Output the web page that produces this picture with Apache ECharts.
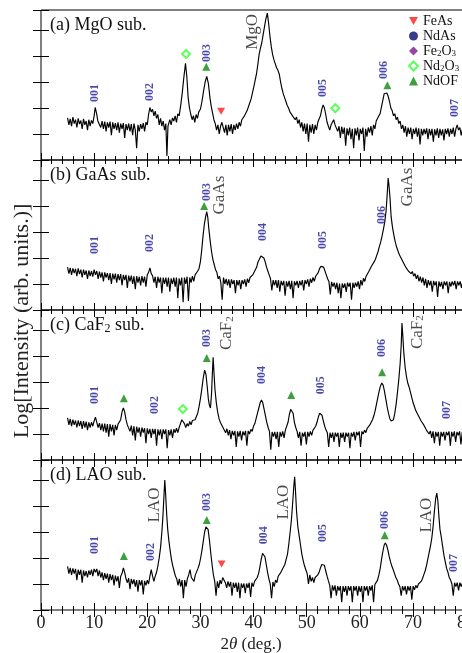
<!DOCTYPE html>
<html><head><meta charset="utf-8">
<script src="https://cdn.jsdelivr.net/npm/echarts@6/dist/echarts.min.js"></script>
<style>html,body{margin:0;padding:0;background:#fff}#c{width:462px;height:653px}</style>
</head><body><div id="c"></div>
<script>
// ---------- DATA (2θ in degrees, log intensity in arbitrary decades) ----------
const xTicks = [0, 10, 20, 30, 40, 50, 60, 70, 80];
const panelTitles = ['(a) MgO sub.', '(b) GaAs sub.', '(c) CaF{s|2} sub.', '(d) LAO sub.'];
const legendNames = ['FeAs', 'NdAs', 'Fe2O3', 'Nd2O3', 'NdOF'];

const scanA = [[5,1.62],[5.25,1.35],[5.5,1.58],[5.75,1.30],[6,1.65],[6.25,1.40],[6.5,1.55],[6.75,1.25],[7,1.60],[7.25,1.38],[7.5,1.52],[7.75,1.20],[8,1.58],[8.25,1.35],[8.5,1.50],[8.75,1.15],[9,1.55],[9.25,1.30],[9.5,1.52],[9.75,1.40],[10,1.70],[10.2,2.02],[10.45,1.80],[10.7,1.50],[11,1.55],[11.25,1.25],[11.5,1.50],[11.75,1.20],[12,1.48],[12.25,1.10],[12.5,1.45],[12.75,1.25],[13,1.48],[13.25,0.95],[13.5,1.45],[13.75,1.20],[14,1.42],[14.25,1.15],[14.5,1.45],[14.75,1.05],[15,1.40],[15.25,1.20],[15.5,1.42],[15.75,0.85],[16,1.38],[16.25,1.15],[16.5,1.40],[16.75,1.10],[17,1.38],[17.25,0.95],[17.5,1.40],[17.75,1.15],[18,0.45],[18.25,1.35],[18.5,1.10],[18.75,1.38],[19,1.20],[19.25,1.42],[19.5,1.10],[19.75,1.45],[20,1.35],[20.25,1.75],[20.5,2.02],[20.75,1.85],[21,1.95],[21.25,1.70],[21.5,1.88],[21.75,1.60],[22,1.75],[22.25,1.35],[22.5,1.60],[22.75,1.30],[23,1.50],[23.25,1.15],[23.5,1.40],[23.7,0.15],[23.9,1.30],[24.25,1.55],[24.5,1.35],[24.75,1.62],[25,1.50],[25.25,1.70],[25.5,1.45],[25.75,1.78],[26,1.70],[26.3,2.10],[26.6,2.60],[26.9,3.20],[27.2,3.72],[27.45,3.20],[27.7,2.40],[27.95,2.00],[28.2,1.75],[28.45,1.55],[28.7,1.70],[28.95,1.45],[29.2,1.75],[29.45,1.60],[29.7,1.85],[30,1.95],[30.3,2.25],[30.6,2.65],[30.9,3.00],[31.2,3.22],[31.5,2.95],[31.8,2.40],[32.05,2.05],[32.3,1.80],[32.55,1.55],[32.8,1.40],[33.05,1.15],[33.3,1.35],[33.55,1.00],[33.8,1.30],[34.05,1.45],[34.3,1.40],[34.55,1.05],[34.8,1.35],[35.05,0.95],[35.3,1.35],[35.55,1.10],[35.8,1.38],[36.05,1.00],[36.3,1.35],[36.55,1.15],[36.8,1.40],[37.05,1.20],[37.3,1.45],[37.55,1.30],[37.8,1.55],[38.05,1.50],[38.3,1.70],[38.55,1.65],[38.8,1.90],[39.05,1.95],[39.3,2.20],[39.55,2.35],[39.8,2.58],[40.05,2.80],[40.3,3.05],[40.55,3.30],[40.8,3.65],[41.05,4.05],[41.3,4.30],[41.55,4.50],[41.8,4.80],[42.05,5.10],[42.3,5.40],[42.6,5.65],[42.85,5.25],[43.1,4.75],[43.35,4.35],[43.6,4.05],[43.85,3.85],[44.1,3.70],[44.35,3.55],[44.6,3.45],[44.85,3.30],[45.1,3.00],[45.35,2.75],[45.6,2.55],[45.85,2.40],[46.1,2.25],[46.35,2.10],[46.6,2.00],[46.85,1.85],[47.1,1.90],[47.35,1.70],[47.6,1.75],[47.85,1.55],[48.1,1.65],[48.35,1.40],[48.6,1.55],[48.85,1.25],[49.1,1.45],[49.35,1.10],[49.6,1.40],[49.85,1.00],[50.1,1.40],[50.35,0.70],[50.6,1.35],[50.85,1.05],[51.1,1.38],[51.35,1.00],[51.6,1.35],[51.85,1.15],[52.1,1.45],[52.35,1.40],[52.6,1.70],[52.85,1.95],[53.1,2.12],[53.35,2.00],[53.6,1.75],[53.85,1.45],[54.1,1.30],[54.35,1.15],[54.6,1.35],[54.85,1.45],[55.1,1.55],[55.35,1.35],[55.6,1.40],[55.85,1.10],[56.1,1.30],[56.35,0.85],[56.6,1.28],[56.85,1.00],[57.1,1.25],[57.35,0.55],[57.6,1.22],[57.85,0.95],[58.1,1.25],[58.35,0.80],[58.6,1.20],[58.85,0.45],[59.1,1.22],[59.35,0.95],[59.6,1.25],[59.85,0.75],[60.1,1.20],[60.35,1.00],[60.6,1.25],[60.85,0.35],[61.1,1.20],[61.35,0.90],[61.6,1.25],[61.85,1.05],[62.1,1.30],[62.35,0.95],[62.6,1.35],[62.85,1.20],[63.1,1.50],[63.35,1.45],[63.6,1.70],[63.85,1.80],[64.1,2.05],[64.35,2.30],[64.6,2.55],[64.85,2.62],[65.1,2.58],[65.35,2.45],[65.6,2.25],[65.85,2.00],[66.1,1.90],[66.35,1.70],[66.6,1.78],[66.85,1.55],[67.1,1.65],[67.35,1.40],[67.6,1.50],[67.85,1.20],[68.1,1.35],[68.35,1.05],[68.6,1.30],[68.85,0.90],[69.1,1.25],[69.35,1.00],[69.6,1.25],[69.85,0.80],[70.1,1.20],[70.35,1.00],[70.6,1.25],[70.85,0.90],[71.1,1.22],[71.35,0.60],[71.6,1.20],[71.85,0.95],[72.1,1.20],[72.35,1.00],[72.6,1.22],[72.85,0.80],[73.1,1.20],[73.35,0.95],[73.6,1.20],[73.85,0.70],[74.1,1.18],[74.35,0.95],[74.6,1.22],[74.85,0.85],[75.1,1.20],[75.35,0.95],[75.6,1.18],[75.85,0.75],[76.1,1.20],[76.35,1.00],[76.6,1.22],[76.85,0.90],[77.1,1.20],[77.35,1.00],[77.6,1.25],[77.85,0.90],[78.1,1.20],[78.35,1.35],[78.6,1.15],[78.85,1.25],[79.1,0.95],[79.35,1.20],[79.6,1.00],[79.85,1.20]];

const scanB = [[5,1.65],[5.25,1.40],[5.5,1.62],[5.75,1.35],[6,1.60],[6.25,1.42],[6.5,1.58],[6.75,1.30],[7,1.60],[7.25,1.38],[7.5,1.55],[7.75,1.25],[8,1.55],[8.25,1.35],[8.5,1.52],[8.75,1.20],[9,1.52],[9.25,1.30],[9.5,1.50],[9.75,1.28],[10,1.55],[10.25,1.35],[10.5,1.50],[10.75,1.20],[11,1.48],[11.25,1.25],[11.5,1.45],[11.75,1.10],[12,1.45],[12.25,1.25],[12.5,1.42],[12.75,1.15],[13,1.42],[13.25,1.00],[13.5,1.40],[13.75,1.18],[14,1.40],[14.25,1.05],[14.5,1.38],[14.75,1.15],[15,1.38],[15.25,0.95],[15.5,1.35],[15.75,1.15],[16,1.35],[16.25,0.85],[16.5,1.32],[16.75,1.10],[17,1.32],[17.25,1.00],[17.5,1.30],[17.75,0.80],[18,1.30],[18.25,1.05],[18.5,1.28],[18.75,0.95],[19,1.30],[19.25,1.05],[19.5,1.28],[19.75,0.90],[20,1.35],[20.25,1.45],[20.5,1.62],[20.75,1.40],[21,1.32],[21.25,1.05],[21.5,1.28],[21.75,0.85],[22,1.28],[22.25,1.05],[22.5,1.25],[22.75,0.65],[23,1.25],[23.25,1.00],[23.5,1.25],[23.75,0.90],[24,1.25],[24.25,0.70],[24.5,1.22],[24.75,1.00],[25,1.25],[25.25,0.90],[25.5,1.25],[25.75,0.45],[26,1.22],[26.25,0.95],[26.5,1.25],[26.75,0.30],[27,1.25],[27.25,1.00],[27.5,1.28],[27.75,0.35],[28,1.25],[28.25,1.05],[28.5,1.30],[28.75,1.10],[29,1.35],[29.25,1.30],[29.5,1.50],[29.75,1.60],[30,1.85],[30.25,2.30],[30.5,2.85],[30.75,3.30],[31,3.60],[31.2,3.78],[31.4,3.55],[31.6,3.10],[31.85,2.65],[32.1,2.25],[32.35,1.95],[32.6,1.75],[32.85,1.55],[33.1,1.45],[33.35,1.20],[33.6,1.30],[33.85,1.05],[34.1,0.40],[34.35,1.25],[34.6,1.00],[34.85,1.20],[35.1,0.95],[35.35,1.18],[35.6,0.85],[35.85,1.18],[36.1,1.00],[36.35,1.15],[36.6,0.65],[36.85,1.15],[37.1,0.95],[37.35,1.15],[37.6,0.80],[37.85,1.15],[38.1,1.00],[38.35,1.18],[38.6,0.90],[38.85,1.20],[39.1,1.05],[39.35,1.25],[39.6,1.20],[39.85,1.35],[40.1,1.40],[40.35,1.55],[40.6,1.65],[40.85,1.85],[41.1,1.95],[41.4,2.08],[41.7,2.12],[41.95,2.00],[42.2,1.85],[42.45,1.65],[42.7,1.50],[42.95,1.35],[43.2,1.20],[43.45,0.75],[43.7,1.15],[43.95,0.95],[44.2,1.15],[44.45,0.85],[44.7,1.15],[44.95,0.70],[45.2,1.12],[45.45,0.95],[45.7,1.12],[45.95,0.55],[46.2,1.10],[46.45,0.90],[46.7,1.12],[46.95,0.80],[47.2,1.12],[47.45,0.45],[47.7,1.10],[47.95,0.95],[48.2,1.12],[48.45,0.85],[48.7,1.12],[48.95,0.95],[49.2,1.15],[49.45,0.75],[49.7,1.15],[49.95,1.00],[50.2,1.18],[50.45,0.90],[50.7,1.20],[50.95,1.05],[51.2,1.25],[51.45,1.10],[51.7,1.30],[51.95,1.35],[52.2,1.45],[52.45,1.60],[52.7,1.68],[52.95,1.73],[53.2,1.65],[53.45,1.50],[53.7,1.35],[53.95,1.20],[54.2,1.10],[54.45,0.60],[54.7,1.08],[54.95,0.90],[55.2,1.05],[55.45,0.80],[55.7,1.05],[55.95,0.65],[56.2,1.02],[56.45,0.45],[56.7,1.02],[56.95,0.85],[57.2,1.02],[57.45,0.70],[57.7,1.05],[57.95,0.90],[58.2,1.05],[58.45,0.40],[58.7,1.05],[58.95,0.85],[59.2,1.05],[59.45,0.90],[59.7,1.10],[59.95,0.80],[60.2,1.15],[60.45,0.95],[60.7,1.22],[60.95,1.10],[61.2,1.30],[61.45,1.25],[61.7,1.48],[61.95,1.55],[62.2,1.68],[62.45,1.70],[62.7,1.85],[62.95,1.95],[63.2,2.10],[63.45,2.25],[63.7,2.45],[63.95,2.62],[64.2,2.85],[64.45,3.10],[64.7,3.38],[64.95,3.80],[65.15,4.40],[65.35,5.08],[65.5,4.80],[65.7,4.30],[65.9,3.60],[66.15,3.20],[66.4,2.90],[66.65,2.65],[66.9,2.45],[67.15,2.30],[67.4,2.15],[67.65,2.05],[67.9,1.95],[68.15,1.85],[68.4,1.78],[68.65,1.65],[68.9,1.62],[69.15,1.50],[69.4,1.55],[69.65,1.40],[69.9,1.48],[70.15,1.30],[70.4,1.40],[70.65,1.20],[70.9,1.35],[71.15,1.10],[71.4,1.28],[71.65,1.05],[71.9,1.25],[72.15,0.95],[72.4,1.20],[72.65,0.85],[72.9,1.15],[73.15,0.95],[73.4,1.12],[73.65,0.70],[73.9,1.12],[74.15,0.95],[74.4,1.10],[74.65,0.50],[74.9,1.10],[75.15,0.90],[75.4,1.08],[75.65,0.80],[75.9,1.10],[76.15,0.95],[76.4,1.10],[76.65,0.65],[76.9,1.08],[77.15,0.90],[77.4,1.10],[77.65,0.95],[77.9,1.12],[78.15,0.80],[78.4,1.10],[78.65,0.95],[78.9,1.10],[79.15,0.85],[79.4,1.10],[79.65,0.95],[79.9,1.10]];

const scanC = [[5,1.62],[5.25,1.35],[5.5,1.58],[5.75,1.30],[6,1.55],[6.25,1.35],[6.5,1.52],[6.75,1.25],[7,1.52],[7.25,1.30],[7.5,1.50],[7.75,1.20],[8,1.50],[8.25,1.25],[8.5,1.48],[8.75,1.15],[9,1.45],[9.25,1.25],[9.5,1.45],[9.75,1.30],[10,1.50],[10.25,1.65],[10.5,1.45],[10.75,1.25],[11,1.42],[11.25,1.15],[11.5,1.40],[11.75,1.10],[12,1.40],[12.25,1.05],[12.5,1.38],[12.75,0.90],[13,1.38],[13.25,1.10],[13.5,1.35],[13.75,0.95],[14,1.35],[14.25,1.15],[14.5,1.38],[14.75,1.35],[15,1.55],[15.25,1.85],[15.5,2.00],[15.75,1.85],[16,1.55],[16.25,1.35],[16.5,1.38],[16.75,1.10],[17,1.32],[17.25,0.95],[17.5,1.30],[17.75,0.75],[18,1.28],[18.25,1.05],[18.5,1.25],[18.75,0.90],[19,1.25],[19.25,1.05],[19.5,1.22],[19.75,0.65],[20,1.22],[20.25,1.00],[20.5,1.20],[20.75,0.85],[21,1.20],[21.25,1.00],[21.5,1.20],[21.75,0.55],[22,1.18],[22.25,0.95],[22.5,1.18],[22.75,0.80],[23,1.18],[23.25,1.00],[23.5,1.18],[23.75,0.45],[24,1.15],[24.25,0.95],[24.5,1.18],[24.75,0.85],[25,1.18],[25.25,1.05],[25.5,1.22],[25.75,1.05],[26,1.25],[26.25,1.40],[26.5,1.55],[26.75,1.62],[27,1.40],[27.25,1.25],[27.5,1.40],[27.75,1.30],[28,1.48],[28.25,1.35],[28.5,1.52],[28.75,1.45],[29,1.55],[29.25,1.60],[29.5,1.80],[29.75,2.05],[30,2.35],[30.25,2.70],[30.5,3.10],[30.8,3.46],[31.05,3.30],[31.3,2.80],[31.5,2.35],[31.7,2.10],[31.9,2.00],[32.1,2.55],[32.25,3.30],[32.4,3.95],[32.55,3.40],[32.75,2.70],[33,2.20],[33.25,1.85],[33.5,1.60],[33.75,1.45],[34,1.40],[34.25,1.25],[34.5,1.30],[34.75,1.05],[35,1.20],[35.25,0.95],[35.5,1.15],[35.75,0.80],[36,1.12],[36.25,0.95],[36.5,1.12],[36.75,0.50],[37,1.10],[37.25,0.90],[37.5,1.12],[37.75,0.75],[38,1.10],[38.25,0.95],[38.5,1.12],[38.75,0.55],[39,1.12],[39.25,1.00],[39.5,1.18],[39.75,1.10],[40,1.30],[40.25,1.40],[40.5,1.60],[40.75,1.80],[41,2.00],[41.25,2.20],[41.5,2.31],[41.75,2.20],[42,1.95],[42.25,1.70],[42.5,1.45],[42.75,1.25],[43,1.10],[43.25,0.40],[43.5,1.08],[43.75,0.90],[44,1.08],[44.25,0.80],[44.5,1.08],[44.75,0.50],[45,1.08],[45.25,0.90],[45.5,1.10],[45.75,0.85],[46,1.15],[46.25,1.20],[46.5,1.45],[46.75,1.75],[47,1.95],[47.2,2.00],[47.45,1.80],[47.7,1.45],[47.95,1.25],[48.2,1.10],[48.45,0.85],[48.7,1.08],[48.95,0.55],[49.2,1.05],[49.45,0.90],[49.7,1.08],[49.95,0.60],[50.2,1.08],[50.45,0.90],[50.7,1.10],[50.95,0.95],[51.2,1.15],[51.45,1.10],[51.7,1.30],[51.95,1.45],[52.2,1.65],[52.45,1.80],[52.65,1.85],[52.9,1.72],[53.15,1.50],[53.4,1.30],[53.65,1.15],[53.9,1.05],[54.15,0.50],[54.4,1.05],[54.65,0.85],[54.9,1.05],[55.15,0.70],[55.4,1.05],[55.65,0.90],[55.9,1.05],[56.15,0.50],[56.4,1.05],[56.65,0.85],[56.9,1.05],[57.15,0.70],[57.4,1.05],[57.65,0.90],[57.9,1.05],[58.15,0.45],[58.4,1.05],[58.65,0.90],[58.9,1.08],[59.15,0.75],[59.4,1.08],[59.65,0.95],[59.9,1.10],[60.15,0.50],[60.4,1.10],[60.65,1.00],[60.9,1.15],[61.15,1.05],[61.4,1.22],[61.65,1.25],[61.9,1.35],[62.15,1.45],[62.4,1.55],[62.65,1.70],[62.9,1.90],[63.15,2.15],[63.4,2.40],[63.65,2.65],[63.9,2.85],[64.15,2.96],[64.4,2.88],[64.65,2.65],[64.9,2.35],[65.15,2.05],[65.4,1.80],[65.65,1.60],[65.9,1.50],[66.1,1.46],[66.35,1.55],[66.6,1.80],[66.85,2.15],[67.1,2.60],[67.35,3.10],[67.6,3.70],[67.8,4.40],[67.95,5.27],[68.1,4.80],[68.3,4.10],[68.55,3.55],[68.8,3.20],[69.05,2.95],[69.3,2.80],[69.55,2.60],[69.8,2.40],[70.05,2.20],[70.3,2.05],[70.55,1.90],[70.8,1.80],[71.05,1.70],[71.3,1.65],[71.55,1.50],[71.8,1.45],[72.05,1.35],[72.3,1.30],[72.55,1.15],[72.8,1.20],[73.05,1.00],[73.3,1.12],[73.55,0.85],[73.8,1.10],[74.05,0.65],[74.3,1.08],[74.55,0.90],[74.8,1.08],[75.05,0.55],[75.3,1.08],[75.55,0.90],[75.8,1.08],[76.05,0.75],[76.3,1.08],[76.55,0.95],[76.8,1.10],[77.05,0.55],[77.3,1.08],[77.55,0.90],[77.8,1.10],[78.05,0.70],[78.3,1.08],[78.55,0.95],[78.8,1.10],[79.05,0.60],[79.3,1.08],[79.55,0.95],[79.8,1.10]];

const scanD = [[5,1.68],[5.25,1.40],[5.5,1.62],[5.75,1.35],[6,1.60],[6.25,1.40],[6.5,1.58],[6.75,1.15],[7,1.55],[7.25,1.35],[7.5,1.55],[7.75,1.05],[8,1.52],[8.25,1.30],[8.5,1.50],[8.75,1.25],[9,1.52],[9.25,1.35],[9.5,1.55],[9.75,1.30],[10,1.58],[10.25,1.45],[10.5,1.58],[10.75,1.30],[11,1.52],[11.25,1.25],[11.5,1.45],[11.75,1.15],[12,1.42],[12.25,1.20],[12.5,1.40],[12.75,1.05],[13,1.38],[13.25,1.15],[13.5,1.35],[13.75,0.95],[14,1.32],[14.25,1.10],[14.5,1.30],[14.75,0.85],[15,1.30],[15.25,1.40],[15.5,1.62],[15.75,1.45],[16,1.20],[16.25,1.05],[16.5,1.22],[16.75,0.80],[17,1.20],[17.25,1.00],[17.5,1.18],[17.75,0.90],[18,1.15],[18.25,0.70],[18.5,1.15],[18.75,0.95],[19,1.15],[19.25,0.60],[19.5,1.12],[19.75,0.95],[20,1.15],[20.25,1.00],[20.5,1.30],[20.75,1.55],[21,1.30],[21.25,1.10],[21.5,1.30],[21.75,1.45],[22,1.70],[22.25,2.00],[22.5,2.40],[22.75,3.00],[22.95,3.60],[23.1,4.20],[23.3,5.00],[23.45,4.50],[23.65,3.70],[23.85,3.10],[24.05,2.70],[24.3,2.30],[24.55,1.95],[24.8,1.70],[25.05,1.50],[25.3,1.30],[25.55,1.20],[25.8,0.95],[26.05,1.20],[26.3,0.90],[26.55,1.15],[26.8,0.45],[27.05,1.15],[27.3,0.90],[27.55,1.20],[27.8,1.35],[28.05,1.55],[28.3,1.25],[28.55,1.30],[28.8,1.10],[29.05,1.35],[29.3,1.40],[29.55,1.60],[29.8,1.75],[30.05,2.00],[30.3,2.30],[30.55,2.65],[30.8,3.00],[31.05,3.20],[31.25,3.27],[31.45,3.10],[31.7,2.70],[31.95,2.20],[32.2,1.75],[32.45,1.35],[32.7,1.10],[32.95,0.55],[33.2,1.10],[33.45,0.85],[33.7,1.15],[33.95,1.00],[34.2,1.25],[34.45,1.25],[34.7,1.05],[34.95,0.85],[35.2,1.10],[35.45,0.90],[35.7,1.08],[35.95,0.55],[36.2,1.05],[36.45,0.85],[36.7,1.05],[36.95,0.70],[37.2,1.05],[37.45,0.45],[37.7,1.02],[37.95,0.85],[38.2,1.02],[38.45,0.65],[38.7,1.02],[38.95,0.85],[39.2,1.05],[39.45,0.50],[39.7,1.05],[39.95,0.90],[40.2,1.10],[40.45,1.05],[40.7,1.25],[40.95,1.40],[41.2,1.65],[41.45,1.95],[41.7,2.18],[41.9,2.23],[42.15,2.05],[42.4,1.75],[42.65,1.45],[42.9,1.20],[43.15,1.00],[43.4,0.45],[43.65,1.08],[43.9,0.90],[44.15,1.15],[44.4,1.05],[44.65,1.30],[44.9,1.25],[45.15,1.45],[45.4,1.45],[45.65,1.65],[45.9,1.75],[46.15,1.95],[46.4,2.15],[46.65,2.55],[46.9,3.00],[47.15,3.50],[47.4,4.20],[47.6,4.80],[47.75,5.12],[47.9,4.60],[48.1,3.80],[48.35,3.20],[48.6,2.85],[48.85,2.50],[49.1,2.15],[49.35,1.90],[49.6,1.70],[49.85,1.55],[50.1,1.40],[50.35,1.00],[50.6,1.35],[50.85,1.10],[51.1,1.25],[51.35,1.05],[51.6,1.25],[51.85,1.20],[52.1,1.35],[52.35,1.45],[52.6,1.62],[52.85,1.75],[53.1,1.81],[53.35,1.72],[53.6,1.50],[53.85,1.30],[54.1,1.12],[54.35,0.95],[54.6,0.45],[54.85,0.95],[55.1,0.75],[55.35,0.95],[55.6,0.55],[55.85,0.92],[56.1,0.75],[56.35,0.92],[56.6,0.30],[56.85,0.92],[57.1,0.70],[57.35,0.92],[57.6,0.55],[57.85,0.92],[58.1,0.75],[58.35,0.92],[58.6,0.30],[58.85,0.92],[59.1,0.75],[59.35,0.92],[59.6,0.55],[59.85,0.92],[60.1,0.70],[60.35,0.92],[60.6,0.30],[60.85,0.92],[61.1,0.75],[61.35,0.92],[61.6,0.55],[61.85,0.92],[62.1,0.75],[62.35,0.95],[62.6,0.30],[62.85,0.98],[63.1,1.00],[63.35,1.15],[63.6,1.35],[63.85,1.60],[64.1,1.95],[64.35,2.25],[64.6,2.50],[64.8,2.58],[65.05,2.50],[65.3,2.30],[65.55,2.05],[65.8,1.85],[66.05,1.68],[66.3,1.55],[66.55,1.40],[66.8,1.25],[67.05,1.15],[67.3,1.00],[67.55,0.90],[67.8,0.55],[68.05,0.92],[68.3,0.75],[68.55,0.92],[68.8,0.60],[69.05,0.92],[69.3,0.75],[69.55,0.92],[69.8,0.40],[70.05,0.92],[70.3,0.78],[70.55,0.95],[70.8,0.85],[71.05,1.00],[71.3,0.95],[71.55,1.10],[71.8,1.20],[72.05,1.35],[72.3,1.50],[72.55,1.70],[72.8,1.95],[73.05,2.20],[73.3,2.45],[73.55,2.75],[73.8,3.20],[74.05,3.80],[74.3,4.30],[74.5,4.50],[74.7,4.20],[74.9,3.60],[75.1,3.10],[75.35,2.80],[75.6,2.45],[75.85,2.10],[76.1,1.85],[76.35,1.60],[76.6,1.45],[76.85,1.25],[77.1,1.15],[77.35,1.00],[77.6,0.55],[77.85,1.05],[78.1,0.90],[78.35,1.05],[78.6,0.75],[78.85,1.05],[79.1,0.90],[79.35,1.05],[79.6,0.80],[79.85,1.05]];

// reflection index labels: [label, 2θ, height]
const indexA = [['001',10.2,2.58],['002',20.5,2.62],['003',31.3,4.12],['005',53.1,2.77],['006',64.5,3.46],['007',78.0,2.0]];
const indexB = [['001',10.2,2.5],['002',20.5,2.58],['003',31.3,4.54],['004',41.7,3.0],['005',53.0,2.69],['006',64.2,3.65]];
const indexC = [['001',10.2,2.5],['002',21.4,2.12],['003',31.2,4.69],['004',41.5,3.27],['005',52.6,2.88],['006',64.2,4.31],['007',76.4,1.92]];
const indexD = [['001',10.2,2.5],['002',20.7,2.23],['003',31.2,4.15],['004',41.9,2.88],['005',53.1,2.96],['006',64.7,3.46],['007',77.7,1.81]];

// substrate peak labels
const substrateA = [['MgO',39.8,4.93]];
const substrateB = [['GaAs',33.6,4.42],['GaAs',68.9,4.73]];
const substrateC = [['CaF{s|2}',35.0,4.88],['CaF{s|2}',70.8,4.92]];
const substrateD = [['LAO',21.4,4.04],['LAO',45.6,4.15],['LAO',72.6,3.65]];

// impurity / phase markers
const feAsA = [[33.9,1.88]];
const nd2o3A = [[27.3,4.08],[55.4,1.99]];
const ndofA = [[31.1,3.59],[65.2,2.88]];
const ndofB = [[30.7,4.0]];
const nd2o3C = [[26.7,1.96]];
const ndofC = [[15.6,2.38],[31.2,3.92],[47.1,2.5],[64.2,3.38]];
const feAsD = [[34.0,1.77]];
const ndofD = [[15.6,2.08],[31.2,3.46],[64.7,2.88]];

// ---------- CHART ----------
const SERIF = "'Liberation Serif','DejaVu Serif',serif";
const panels = [
  {scan: scanA, idx: indexA, sub: substrateA, marks: {FeAs: feAsA, Nd2O3: nd2o3A, NdOF: ndofA}},
  {scan: scanB, idx: indexB, sub: substrateB, marks: {NdOF: ndofB}},
  {scan: scanC, idx: indexC, sub: substrateC, marks: {Nd2O3: nd2o3C, NdOF: ndofC}},
  {scan: scanD, idx: indexD, sub: substrateD, marks: {FeAs: feAsD, NdOF: ndofD}}
];
const markerStyle = {
  FeAs: {symbol: 'path://M0,0L10,0L5,8.7Z', size: [8, 7], color: '#ff1a1a'},
  NdAs: {symbol: 'circle', size: 6, color: '#0a0a6e'},
  Fe2O3: {symbol: 'diamond', size: 9, color: '#7a1a8a'},
  Nd2O3: {symbol: 'emptyDiamond', size: 8, color: '#33ff33'},
  NdOF: {symbol: 'triangle', size: 8, color: '#0b8a0b'}
};
const legendLabel = {FeAs: 'FeAs', NdAs: 'NdAs', Fe2O3: 'Fe{s|2}O{s|3}', Nd2O3: 'Nd{s|2}O{s|3}', NdOF: 'NdOF'};

const GL = 41, GW = 425, GT = 10, GH = 150, YMAX = 5.77;
const grids = [], xAxes = [], yAxes = [], series = [];
const tickStyle = {color: '#000', width: 1};
panels.forEach((p, i) => {
  grids.push({left: GL, top: GT + i * GH, width: GW, height: GH, show: true, borderColor: '#000', borderWidth: 1,
    backgroundColor: 'transparent', containLabel: false, outerBoundsMode: 'none'});
  ['bottom', 'top'].forEach(pos => {
    xAxes.push({gridIndex: i, type: 'value', min: xTicks[0], max: xTicks[xTicks.length - 1], interval: 10, position: pos,
      axisLine: {show: false}, splitLine: {show: false}, minorSplitLine: {show: false},
      axisTick: {show: true, inside: true, length: 7, lineStyle: tickStyle},
      minorTick: {show: true, splitNumber: 5, length: 4, lineStyle: tickStyle},
      axisLabel: {show: pos === 'bottom' && i === 3, fontSize: 18, fontFamily: SERIF, color: '#222', margin: 4, hideOverlap: false}});
  });
  ['left', 'right'].forEach(pos => {
    yAxes.push({gridIndex: i, type: 'value', min: 0, max: YMAX, interval: 1, position: pos,
      axisLine: {show: false}, splitLine: {show: false},
      axisTick: {show: true, inside: true, length: 8, lineStyle: tickStyle},
      axisLabel: {show: false}});
  });
  const xi = 2 * i, yi = 2 * i;
  series.push({type: 'line', xAxisIndex: xi, yAxisIndex: yi, data: p.scan, showSymbol: false, symbol: 'none',
    lineStyle: {color: '#000', width: 1.15}, silent: true, z: 2, clip: true});
  Object.keys(p.marks).forEach(k => {
    const m = markerStyle[k];
    series.push({type: 'scatter', name: k, xAxisIndex: xi, yAxisIndex: yi, data: p.marks[k], symbol: m.symbol,
      symbolSize: m.size, itemStyle: {color: m.color, borderColor: m.color, borderWidth: m.symbol.startsWith('empty') ? 2.2 : 0},
      silent: true, z: 4});
  });
  series.push({type: 'scatter', xAxisIndex: xi, yAxisIndex: yi, symbolSize: 0, silent: true, z: 5,
    data: p.idx.map(d => ({name: d[0], value: [d[1], d[2]]})),
    label: {show: true, position: 'inside', rotate: 90, formatter: '{b}', fontFamily: SERIF, fontSize: 12, fontWeight: 'bold', color: '#1c1c94'}});
  series.push({type: 'scatter', xAxisIndex: xi, yAxisIndex: yi, symbolSize: 0, silent: true, z: 5,
    data: p.sub.map(d => ({name: d[0], value: [d[1], d[2]]})),
    label: {show: true, position: 'inside', rotate: 90, formatter: '{b}', fontFamily: SERIF, fontSize: 17, color: '#1a1a1a',
      rich: {s: {fontSize: 11, fontFamily: SERIF, color: '#1a1a1a', padding: [6, 0, 0, 0]}}}});
});
// legend-only series for phases not observed
['NdAs', 'Fe2O3'].forEach(k => {
  const m = markerStyle[k];
  series.push({type: 'scatter', name: k, xAxisIndex: 0, yAxisIndex: 0, data: [], symbol: m.symbol, symbolSize: m.size, itemStyle: {color: m.color}});
});

const graphic = panelTitles.map((t, i) => ({
  type: 'text', x: 50, y: GT + i * GH + 15, z: 10,
  style: {text: t, font: '18px ' + SERIF, fill: '#111', textVerticalAlign: 'middle',
    rich: {s: {fontSize: 12, fontFamily: SERIF, fill: '#111', padding: [7, 0, 0, 0]}}}
}));
graphic.push({type: 'text', x: 22, y: 321, rotation: Math.PI / 2, z: 10,
  style: {text: 'Log[Intensity (arb. units.)]', font: '22px ' + SERIF, fill: '#222', textAlign: 'center', textVerticalAlign: 'middle'}});
graphic.push({type: 'text', x: 251, y: 645, z: 10,
  style: {text: '2{i|θ} (deg.)', font: '17px ' + SERIF, fill: '#222', textAlign: 'center', textVerticalAlign: 'middle',
    rich: {i: {fontStyle: 'italic', fontSize: 17, fontFamily: SERIF, fill: '#222'}}}});

const chart = echarts.init(document.getElementById('c'), null, {renderer: 'canvas'});
chart.setOption({
  animation: false,
  backgroundColor: '#fff',
  grid: grids, xAxis: xAxes, yAxis: yAxes, series: series, graphic: graphic,
  legend: {data: legendNames, orient: 'vertical', left: 408, top: 14, padding: 0, itemGap: 1, itemWidth: 9, itemHeight: 9,
    selectedMode: false, formatter: n => legendLabel[n],
    textStyle: {fontFamily: SERIF, fontSize: 14, color: '#111', lineHeight: 14,
      rich: {s: {fontSize: 9, fontFamily: SERIF, color: '#111', padding: [5, 0, 0, 0]}}}}
});
</script></body></html>
